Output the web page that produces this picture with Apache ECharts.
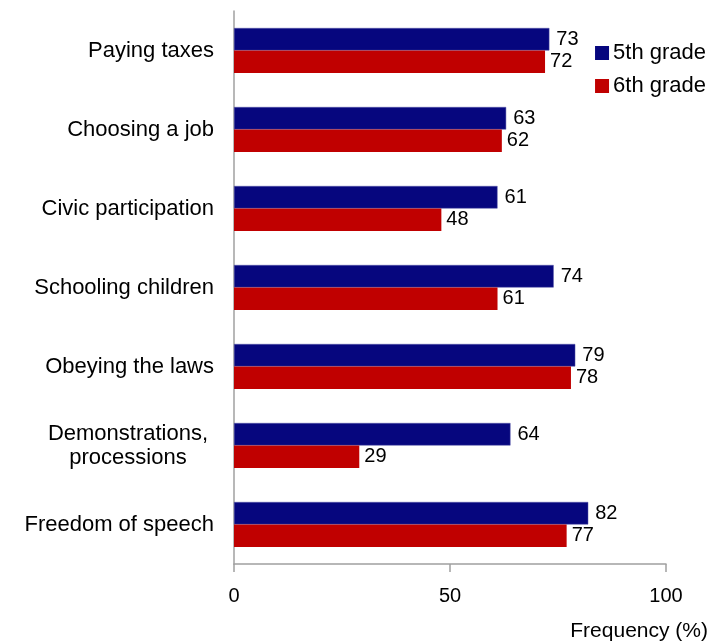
<!DOCTYPE html>
<html>
<head>
<meta charset="utf-8">
<script src="https://cdn.jsdelivr.net/npm/echarts@6/dist/echarts.min.js"></script>
<style>html,body{margin:0;padding:0;background:#fff;}#c{width:720px;height:642px;}</style>
</head>
<body>
<div id="c"></div>
<script>
var categories = ['Paying taxes', 'Choosing a job', 'Civic participation', 'Schooling children', 'Obeying the laws', 'Demonstrations,\nprocessions', 'Freedom of speech'];
var grade5 = [73, 63, 61, 74, 79, 64, 82];
var grade6 = [72, 62, 48, 61, 78, 29, 77];
var xTicks = [0, 50, 100];
var seriesNames = ['5th grade', '6th grade'];
var axisTitle = 'Frequency (%)';

var FONT = 'Liberation Sans, Arial, sans-serif';
var chart = echarts.init(document.getElementById('c'), null, {renderer: 'canvas'});
chart.setOption({
  animation: false,
  backgroundColor: '#fff',
  grid: {left: 234, right: 54, top: 11, bottom: 78, containLabel: false},
  legend: {
    orient: 'vertical', right: 9, top: 37, itemWidth: 14, itemHeight: 14, itemGap: 11,
    icon: 'rect',
    itemStyle: {borderWidth: 0},
    textStyle: {fontFamily: FONT, fontSize: 22, color: '#000', padding: [0, 0, 0, -1]},
    data: seriesNames
  },
  xAxis: {
    type: 'value', min: xTicks[0], max: xTicks[xTicks.length - 1], interval: 50,
    axisLine: {show: true, lineStyle: {color: '#a0a0a0', width: 1.5}},
    axisTick: {show: true, length: 8, lineStyle: {color: '#a0a0a0', width: 1.5}},
    splitLine: {show: false},
    axisLabel: {fontFamily: FONT, fontSize: 20, color: '#000', margin: 22}
  },
  yAxis: {
    type: 'category', data: categories, inverse: true,
    axisLine: {show: true, lineStyle: {color: '#a0a0a0', width: 1.5}},
    axisTick: {show: false},
    axisLabel: {
      fontFamily: FONT, fontSize: 22, color: '#000', margin: 20, lineHeight: 24,
      formatter: function (v) {
        if (v.indexOf('\n') >= 0) {
          return v.split('\n').map(function (s) { return '{c|' + s + '}'; }).join('\n');
        }
        return v;
      },
      rich: {c: {width: 172, align: 'center', fontFamily: FONT, fontSize: 22, color: '#000', lineHeight: 24}}
    }
  },
  graphic: [{
    type: 'text', right: 12, top: 621,
    style: {text: axisTitle, font: '21px ' + FONT, fill: '#000'}
  }],
  series: [{
    name: seriesNames[0], type: 'bar', data: grade5, barGap: '0%', barCategoryGap: '43%',
    itemStyle: {color: '#06067e', borderColor: '#5555a8', borderWidth: 0.5},
    label: {show: true, position: 'right', distance: 7, fontFamily: FONT, fontSize: 20, color: '#000'}
  }, {
    name: seriesNames[1], type: 'bar', data: grade6,
    itemStyle: {color: '#c00000'},
    label: {show: true, position: 'right', distance: 5, fontFamily: FONT, fontSize: 20, color: '#000'}
  }]
});
</script>
</body>
</html>
